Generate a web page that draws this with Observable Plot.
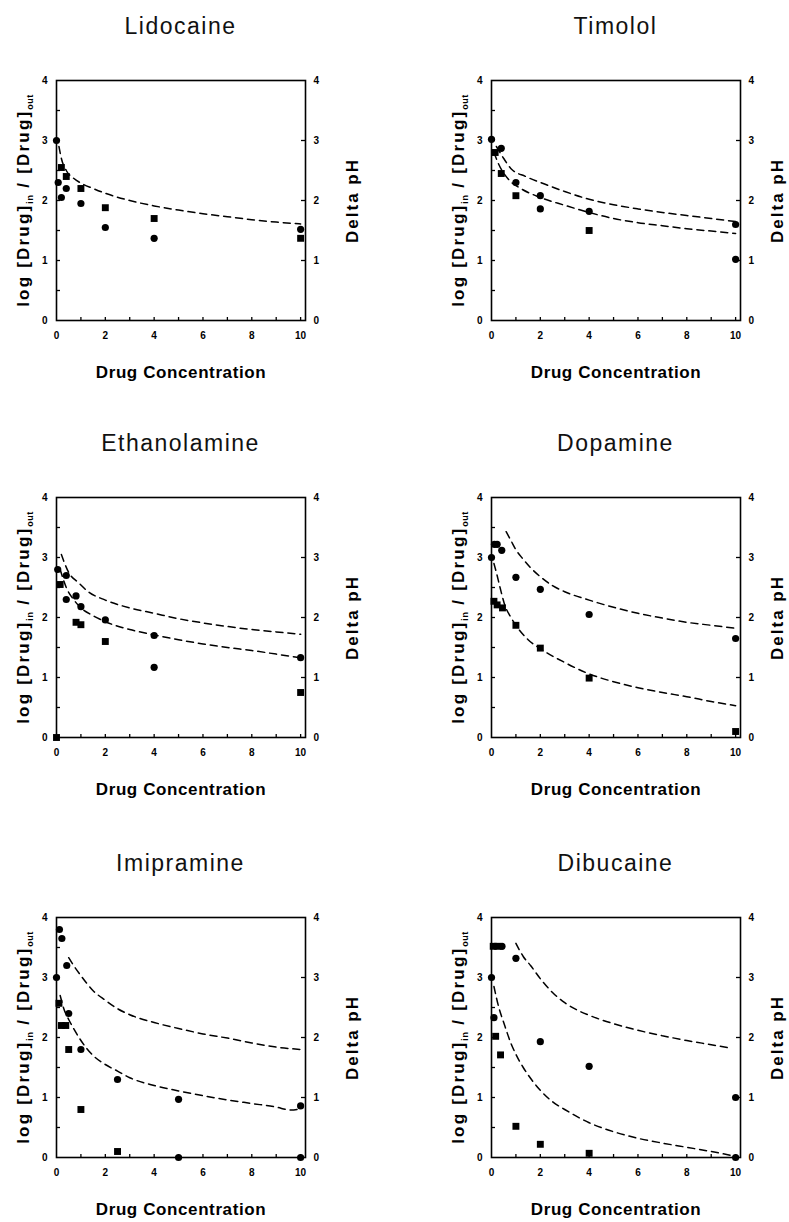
<!DOCTYPE html>
<html><head><meta charset="utf-8">
<script src="https://cdn.jsdelivr.net/npm/d3@7"></script>
<script src="https://cdn.jsdelivr.net/npm/@observablehq/plot@0.6"></script>
<style>
html,body{margin:0;padding:0;background:#fff;width:789px;height:1222px;overflow:hidden;position:relative;}
.panel{position:absolute;width:395px;}
.title{height:52px;line-height:52px;margin-left:56px;width:249px;text-align:center;font-family:"Liberation Sans",Arial,sans-serif;font-size:23px;letter-spacing:1.5px;color:#111;white-space:nowrap;}
</style></head><body><div id="root"></div>
<script>
// ---- axes ----
const xTicks = [0, 2, 4, 6, 8, 10];
const xMinorTicks = [1, 2, 3, 4, 5, 6, 7, 8, 9, 10];
const yTicks = [0, 1, 2, 3, 4];
const yLeftMinorTicks = [0.5, 1, 1.5, 2, 2.5, 3, 3.5];
const yRightMinorTicks = [1, 2, 3];
const xLabel = "Drug Concentration";
const yLabelParts = ["log [Drug]", "in", " / [Drug]", "out"];
const yLabel = yLabelParts.join("");
const y2Label = "Delta pH";
const titles = ["Lidocaine", "Timolol", "Ethanolamine", "Dopamine", "Imipramine", "Dibucaine"];

// ---- Lidocaine ----
const lidocaineCircles = [[0,3.0],[0.07,2.3],[0.2,2.05],[0.4,2.2],[1,1.95],[2,1.55],[4,1.37],[10,1.52]];
const lidocaineSquares = [[0.2,2.55],[0.4,2.4],[1,2.2],[2,1.88],[4,1.7],[10,1.37]];
const lidocaineCurve = [[0.1,2.9],[0.2,2.7],[0.4,2.5],[0.7,2.37],[1,2.29],[1.5,2.2],[2,2.12],[3,2.0],[4,1.91],[5,1.84],[6,1.78],[7,1.73],[8,1.68],[9,1.64],[10,1.61]];

// ---- Timolol ----
const timololCircles = [[0,3.02],[0.4,2.87],[1,2.3],[2,2.08],[2,1.86],[4,1.82],[10,1.6],[10,1.02]];
const timololSquares = [[0.15,2.8],[0.4,2.45],[1,2.08],[4,1.5]];
const timololCurveUpper = [[0.2,2.9],[0.5,2.7],[0.8,2.53],[1.4,2.4],[2.2,2.27],[3,2.15],[4,2.02],[5,1.93],[6,1.86],[7,1.8],[8,1.75],[9,1.7],[10,1.65]];
const timololCurveLower = [[0.1,2.8],[0.3,2.6],[0.7,2.35],[1.2,2.2],[2,2.05],[3,1.92],[4,1.8],[5,1.7],[6,1.63],[7,1.58],[8,1.53],[9,1.49],[10,1.45]];

// ---- Ethanolamine ----
const ethanolamineCircles = [[0.05,2.8],[0.4,2.7],[0.4,2.3],[0.8,2.36],[1,2.18],[2,1.96],[4,1.7],[4,1.17],[10,1.33]];
const ethanolamineSquares = [[0,0],[0.15,2.55],[0.8,1.92],[1,1.88],[2,1.6],[10,0.75]];
const ethanolamineCurveUpper = [[0.2,3.05],[0.5,2.75],[0.9,2.58],[1.3,2.43],[2,2.29],[3,2.16],[4,2.07],[5,1.98],[6,1.91],[7,1.85],[8,1.8],[9,1.76],[10,1.72]];
const ethanolamineCurveLower = [[0.15,2.8],[0.4,2.5],[0.7,2.3],[1,2.16],[1.5,2.03],[2,1.93],[3,1.8],[4,1.71],[5,1.63],[6,1.56],[7,1.5],[8,1.45],[9,1.39],[10,1.33]];

// ---- Dopamine ----
const dopamineCircles = [[0,3.0],[0.12,3.22],[0.23,3.22],[0.42,3.12],[1,2.67],[2,2.47],[4,2.05],[10,1.65]];
const dopamineSquares = [[0.1,2.27],[0.23,2.21],[0.45,2.16],[1,1.87],[2,1.49],[4,0.99],[10,0.1]];
const dopamineCurveUpper = [[0.6,3.43],[0.8,3.28],[1,3.13],[1.3,2.97],[1.6,2.83],[2,2.68],[2.5,2.53],[3,2.43],[4,2.29],[5,2.17],[6,2.07],[7,1.99],[8,1.92],[9,1.87],[10,1.82]];
const dopamineCurveLower = [[0.1,2.9],[0.2,2.75],[0.35,2.5],[0.55,2.2],[0.8,2.0],[1,1.87],[1.5,1.63],[2,1.48],[3,1.25],[4,1.06],[5,0.93],[6,0.83],[7,0.75],[8,0.68],[9,0.6],[10,0.53]];

// ---- Imipramine ----
const imipramineCircles = [[0,3.0],[0.12,3.8],[0.22,3.65],[0.42,3.2],[0.5,2.4],[1,1.8],[2.5,1.3],[5,0.97],[5,0],[10,0.86],[10,0]];
const imipramineSquares = [[0.1,2.57],[0.2,2.2],[0.38,2.2],[0.5,1.8],[1,0.8],[2.5,0.1]];
const imipramineCurveUpper = [[0.5,3.33],[0.7,3.2],[1,3.03],[1.5,2.78],[2,2.62],[2.5,2.48],[3,2.38],[4,2.25],[5,2.15],[6,2.06],[7,1.99],[8,1.91],[9,1.84],[10,1.8]];
const imipramineCurveLower = [[0.15,2.7],[0.3,2.48],[0.5,2.3],[0.7,2.15],[1,1.95],[1.5,1.7],[2,1.55],[2.5,1.44],[3,1.33],[4,1.2],[5,1.11],[6,1.03],[7,0.96],[8,0.9],[9,0.84],[9.6,0.79],[10,0.81]];

// ---- Dibucaine ----
const dibucaineCircles = [[0,3.0],[0.1,2.33],[0.43,3.52],[1,3.32],[2,1.93],[4,1.52],[10,1.0],[10,0]];
const dibucaineSquares = [[0.07,3.52],[0.25,3.52],[0.17,2.02],[0.37,1.71],[1,0.52],[2,0.22],[4,0.07]];
const dibucaineCurveUpper = [[1,3.57],[1.3,3.35],[1.6,3.2],[2,2.98],[2.5,2.75],[3,2.58],[3.5,2.46],[4,2.37],[5,2.23],[6,2.12],[7,2.03],[8,1.95],[9,1.88],[9.7,1.83]];
const dibucaineCurveLower = [[0.1,2.85],[0.3,2.5],[0.5,2.25],[0.8,1.9],[1,1.72],[1.3,1.5],[1.6,1.32],[2,1.12],[2.5,0.93],[3,0.8],[4,0.58],[5,0.43],[6,0.32],[7,0.24],[8,0.17],[9,0.1],[10,0.02]];

const panels = [
  {title: titles[0], circles: lidocaineCircles, squares: lidocaineSquares, curves: [lidocaineCurve]},
  {title: titles[1], circles: timololCircles, squares: timololSquares, curves: [timololCurveUpper, timololCurveLower]},
  {title: titles[2], circles: ethanolamineCircles, squares: ethanolamineSquares, curves: [ethanolamineCurveUpper, ethanolamineCurveLower]},
  {title: titles[3], circles: dopamineCircles, squares: dopamineSquares, curves: [dopamineCurveUpper, dopamineCurveLower]},
  {title: titles[4], circles: imipramineCircles, squares: imipramineSquares, curves: [imipramineCurveUpper, imipramineCurveLower]},
  {title: titles[5], circles: dibucaineCircles, squares: dibucaineSquares, curves: [dibucaineCurveUpper, dibucaineCurveLower]}
];

const colLeft = [0, 435];
const rowTop = [0, 417, 837];
const font = "'Liberation Sans', Arial, Helvetica, sans-serif";
const toObj = a => a.map(([x, y]) => ({x, y}));
const W = 395, H = 334, ML = 56, MR = 90, MT = 28, MB = 66;
const frameW = W - ML - MR, frameH = H - MT - MB;
const tickLen = 4;

panels.forEach((p, i) => {
  const col = i % 2;
  const div = document.createElement("div");
  div.className = "panel";
  div.style.left = colLeft[col] + "px";
  div.style.top = rowTop[Math.floor(i / 2)] + "px";
  const t = document.createElement("div");
  t.className = "title";
  t.textContent = p.title;
  div.appendChild(t);

  const labelStyle = {fill: "black", fontWeight: "bold", fontSize: 17, fontFamily: font, textAnchor: "middle", lineAnchor: "middle"};
  const tickText = {tickSize: 0, fontWeight: "bold", fontSize: 10, tickFormat: d => String(d), label: null};
  const chart = Plot.plot({
    width: W, height: H,
    marginTop: MT, marginBottom: MB, marginLeft: ML, marginRight: MR,
    x: {domain: [0, 10.2], label: null},
    y: {domain: [0, 4], label: null},
    style: {fontFamily: font, background: "white", overflow: "visible", color: "black"},
    marks: [
      Plot.frame({stroke: "black", strokeWidth: 1.6}),
      Plot.tickY(yLeftMinorTicks, {y: d => d, insetRight: frameW - tickLen, stroke: "black", strokeWidth: 1.3}),
      Plot.tickY(yRightMinorTicks, {y: d => d, insetLeft: frameW - tickLen, stroke: "black", strokeWidth: 1.3}),
      Plot.tickX(xMinorTicks, {x: d => d, insetTop: frameH - tickLen + 1, stroke: "black", strokeWidth: 1.3}),
      Plot.axisY(yTicks, {anchor: "left", tickPadding: 9, ...tickText}),
      Plot.axisY(yTicks, {anchor: "right", tickPadding: 8, ...tickText}),
      Plot.axisX(xTicks, {anchor: "bottom", tickPadding: 11, ...tickText}),
      ...p.curves.map(c => Plot.line(toObj(c), {x: "x", y: "y", stroke: "black", strokeWidth: 1.5, strokeDasharray: "7,5", curve: "monotone-x"})),
      Plot.dot(toObj(p.circles), {x: "x", y: "y", r: 3.6, fill: "black", symbol: "circle"}),
      Plot.dot(toObj(p.squares), {x: "x", y: "y", r: 3.9, fill: "black", symbol: "square"}),
      Plot.text([yLabel], {text: d => d, frameAnchor: "left", rotate: -90, dx: -33, ...labelStyle}),
      Plot.text([y2Label], {text: d => d, frameAnchor: "right", rotate: -90, dx: col === 0 ? 47 : 37, ...labelStyle}),
      Plot.text([xLabel], {text: d => d, frameAnchor: "bottom", dy: 52, ...labelStyle})
    ]
  });
  const svg = d3.select(chart);
  svg.selectAll("text").filter(function () { return this.textContent === yLabel; }).each(function () {
    const s = d3.select(this);
    s.text(null).style("letter-spacing", "2.2px");
    s.append("tspan").text(yLabelParts[0]);
    s.append("tspan").attr("dy", 4).attr("font-size", 9).style("letter-spacing", "0.5px").text(yLabelParts[1]);
    s.append("tspan").attr("dy", -4).text(yLabelParts[2]);
    s.append("tspan").attr("dy", 4).attr("font-size", 9).style("letter-spacing", "0.5px").text(yLabelParts[3]);
  });
  svg.selectAll("text").filter(function () { return this.textContent === y2Label; }).style("letter-spacing", "2px");
  svg.selectAll("text").filter(function () { return this.textContent === xLabel; }).style("letter-spacing", "0.6px");
  div.appendChild(chart);
  document.getElementById("root").appendChild(div);
});
</script></body></html>
